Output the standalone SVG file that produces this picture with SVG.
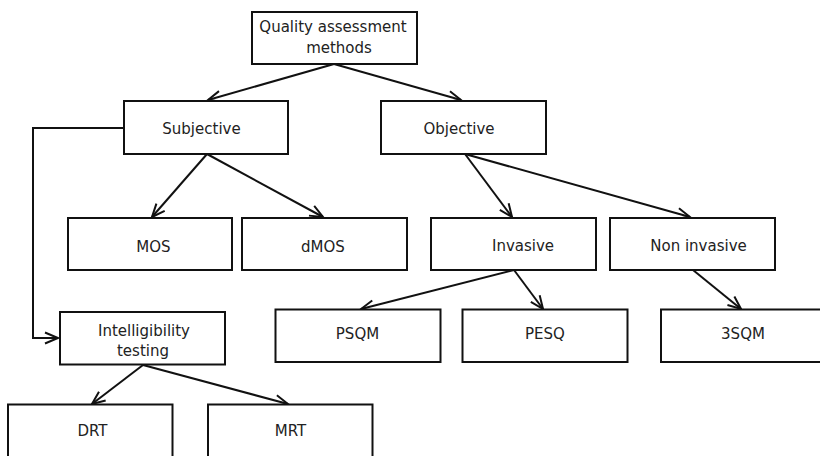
<svg xmlns="http://www.w3.org/2000/svg" width="820" height="456" viewBox="0 0 820 456">
<style>
.box{fill:#fff;stroke:#111;stroke-width:2}
.lbl{font-family:"DejaVu Sans",sans-serif;font-size:15px;fill:#222;text-anchor:middle}
.edge{fill:none;stroke:#111;stroke-width:2;marker-end:url(#arr)}
</style>
<defs>
<marker id="arr" markerUnits="userSpaceOnUse" markerWidth="16" markerHeight="16" refX="13" refY="5.5" orient="auto" overflow="visible">
<path d="M0,0 L13,5.5 L0,11" fill="none" stroke="#111" stroke-width="2"/>
</marker>
</defs>
<rect width="820" height="456" fill="#fff"/>
<g id="connectors">
<path class="edge" d="M334,64 L208,100"/>
<path class="edge" d="M334,64 L461,100"/>
<path class="edge" d="M207,154 L152,217"/>
<path class="edge" d="M207,154 L323,217"/>
<path class="edge" d="M465,154 L512,217"/>
<path class="edge" d="M465,154 L690,217"/>
<path class="edge" d="M514,270 L361,309"/>
<path class="edge" d="M514,270 L543,309"/>
<path class="edge" d="M693,270 L741,309"/>
<path class="edge" d="M124,128 L33,128 L33,338 L58,338"/>
<path class="edge" d="M143,365 L92,404"/>
<path class="edge" d="M143,365 L288,404"/>
</g>
<g id="n-quality"><rect class="box" x="252" y="12" width="165" height="52"/><text class="lbl" x="333" y="32">Quality assessment</text><text class="lbl" x="339" y="52.5">methods</text></g>
<g id="n-subjective"><rect class="box" x="124" y="101" width="164" height="53"/><text class="lbl" x="201.5" y="134">Subjective</text></g>
<g id="n-objective"><rect class="box" x="381" y="101" width="165" height="53"/><text class="lbl" x="459" y="133.5">Objective</text></g>
<g id="n-mos"><rect class="box" x="68" y="218" width="164" height="52"/><text class="lbl" x="153.5" y="252">MOS</text></g>
<g id="n-dmos"><rect class="box" x="242" y="218" width="165" height="52"/><text class="lbl" x="323" y="252">dMOS</text></g>
<g id="n-invasive"><rect class="box" x="431" y="218" width="165" height="52"/><text class="lbl" x="523" y="251">Invasive</text></g>
<g id="n-noninvasive"><rect class="box" x="610" y="218" width="165" height="52"/><text class="lbl" x="698.5" y="251">Non invasive</text></g>
<g id="n-intelligibility"><rect class="box" x="60" y="312" width="165" height="52.5"/><text class="lbl" x="144" y="336">Intelligibility</text><text class="lbl" x="143" y="355.5">testing</text></g>
<g id="n-psqm"><rect class="box" x="275.5" y="309.5" width="165" height="52.5"/><text class="lbl" x="357.5" y="338.5">PSQM</text></g>
<g id="n-pesq"><rect class="box" x="462.5" y="309.5" width="165" height="52.5"/><text class="lbl" x="545" y="338.5">PESQ</text></g>
<g id="n-3sqm"><rect class="box" x="661" y="309.5" width="165" height="52.5"/><text class="lbl" x="743" y="338.5">3SQM</text></g>
<g id="n-drt"><rect class="box" x="8" y="404.5" width="164.5" height="53"/><text class="lbl" x="92.5" y="436">DRT</text></g>
<g id="n-mrt"><rect class="box" x="208" y="404.5" width="164.5" height="53"/><text class="lbl" x="290.5" y="435.5">MRT</text></g>
</svg>
